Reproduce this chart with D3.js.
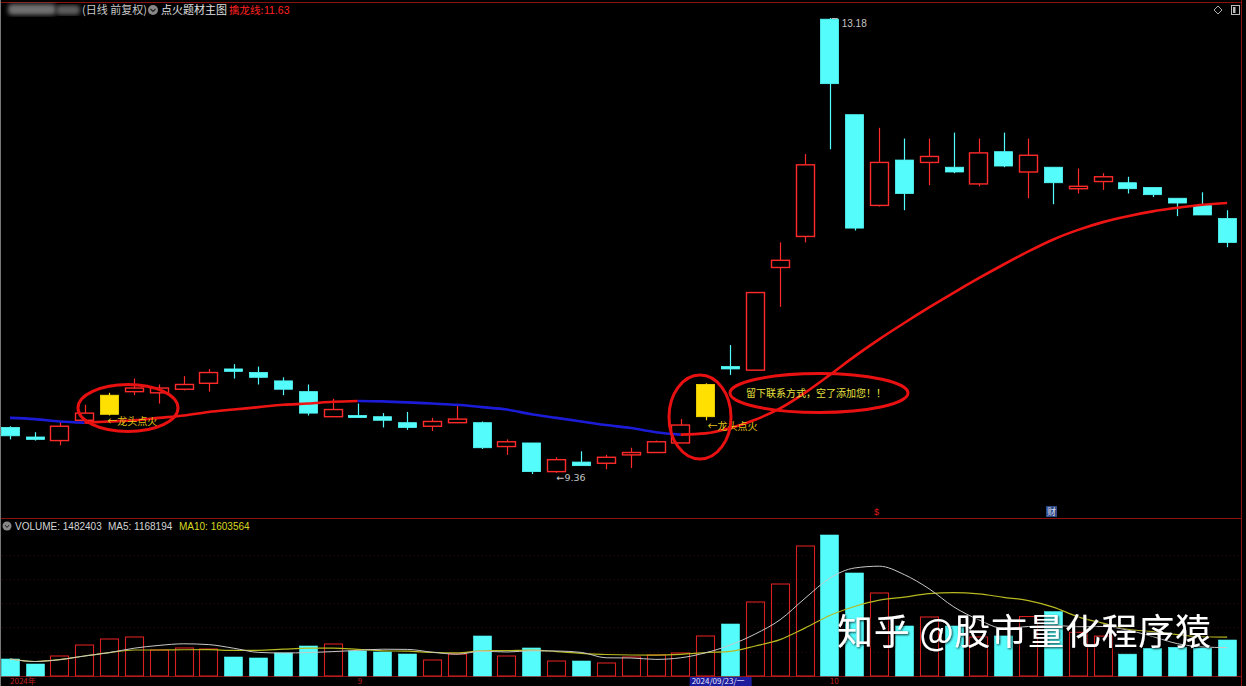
<!DOCTYPE html>
<html><head><meta charset="utf-8">
<script src="https://cdn.jsdelivr.net/npm/d3@7"></script>
<style>html,body{margin:0;padding:0;background:#000;overflow:hidden}</style>
</head><body><svg id="c" width="1246" height="686"></svg>
<script>
// ---- data ----
const openP  = [9.75,9.67,9.64,9.81,9.86,10.05,10.04,10.07,10.12,10.24,10.21,10.14,10.05,9.84,9.85,9.84,9.79,9.76,9.79,9.79,9.59,9.62,9.38,9.46,9.45,9.52,9.54,9.62,9.84,10.26,10.23,11.09,11.35,13.17,12.37,11.61,11.99,11.97,11.93,11.79,12.06,11.89,11.93,11.75,11.81,11.80,11.76,11.67,11.61,11.50];
const highP  = [9.76,9.71,9.80,9.94,10.04,10.16,10.11,10.18,10.24,10.28,10.26,10.17,10.11,9.99,9.95,9.87,9.88,9.83,9.94,9.80,9.65,9.62,9.50,9.55,9.52,9.58,9.64,9.82,10.12,10.44,10.88,11.30,12.04,13.18,12.37,12.26,12.17,12.17,12.22,12.17,12.22,12.17,11.93,11.92,11.88,11.85,11.76,11.67,11.72,11.57];
const lowP   = [9.65,9.64,9.60,9.80,9.85,10.02,9.95,10.06,10.05,10.16,10.11,10.02,9.85,9.84,9.83,9.75,9.73,9.72,9.79,9.57,9.52,9.36,9.37,9.43,9.40,9.41,9.54,9.62,9.81,10.19,10.23,10.76,11.30,12.08,11.40,11.60,11.57,11.78,11.88,11.77,11.93,11.67,11.62,11.71,11.74,11.71,11.68,11.52,11.53,11.26];
const closeP = [9.68,9.65,9.76,9.87,10.02,10.08,10.08,10.11,10.21,10.22,10.17,10.07,9.87,9.90,9.84,9.81,9.75,9.80,9.82,9.58,9.63,9.38,9.48,9.43,9.50,9.54,9.63,9.77,10.11,10.24,10.88,11.15,11.95,12.63,11.42,11.97,11.71,12.02,11.89,12.05,11.94,12.03,11.80,11.77,11.85,11.75,11.70,11.63,11.53,11.30];
const signalIdx = [4, 28];   // 龙头点火 candles
const qinlong = [9.83,9.82,9.80,9.79,9.80,9.81,9.83,9.85,9.88,9.90,9.92,9.94,9.95,9.965,9.972,9.968,9.96,9.95,9.94,9.92,9.90,9.86,9.83,9.80,9.77,9.745,9.71,9.69,9.70,9.745,9.815,9.91,10.04,10.19,10.345,10.49,10.625,10.755,10.88,11.0,11.115,11.225,11.325,11.405,11.47,11.52,11.56,11.59,11.615,11.63];
const volume = [700000,494000,824000,1277000,1524000,1607000,1071000,1154000,1112000,783000,742000,948000,1236000,1318000,1030000,989000,906000,659000,906000,1648000,824000,1154000,618000,618000,536000,783000,865000,948000,1648000,2142000,3049000,3790000,5356000,5809000,4244000,3420000,2060000,2431000,2060000,1607000,1650000,2450000,2650000,1800000,1644000,900000,1130000,1180000,1150000,1482403];
const volHeader = ["VOLUME: 1482403", "MA5: 1168194", "MA10: 1603564"];
const tickIndex = [0, 14, 33];
const tickText  = ["2024年", "9", "10"];
const cursorIndex = 27, cursorText = "2024/09/23/一";

// ---- setup ----
const N = openP.length;
const svg = d3.select("#c");
svg.append("rect").attr("width",1246).attr("height",686).attr("fill","#000");
const defs = svg.append("defs");
defs.append("filter").attr("id","blur").append("feGaussianBlur").attr("stdDeviation",2.2);
defs.append("filter").attr("id","shadow").append("feDropShadow").attr("dx",1).attr("dy",1).attr("stdDeviation",1).attr("flood-color","#000").attr("flood-opacity",0.8);

const RED="#ff2a2a", CYAN="#54fcfc", YEL="#ffe000", DRED="#8a1212";
const x = d3.scaleBand().domain(d3.range(N)).range([-2.42,1239.58]).paddingInner(0.25).paddingOuter(0.125);
const cx = i => x(i) + x.bandwidth()/2;
const yP = d3.scaleLinear().domain([9.36,13.18]).range([474,18]);
const yV = d3.scaleLinear().domain([0,d3.max(volume)]).range([676,535]);

// frame lines
const frame = svg.append("g");
frame.append("line").attr("x1",0).attr("x2",1242).attr("y1",2.5).attr("y2",2.5).attr("stroke",DRED);
frame.append("line").attr("x1",0).attr("x2",1242).attr("y1",518.5).attr("y2",518.5).attr("stroke",DRED);
frame.append("line").attr("x1",0).attr("x2",1242).attr("y1",676.5).attr("y2",676.5).attr("stroke",DRED);
frame.append("line").attr("x1",1241.5).attr("x2",1241.5).attr("y1",0).attr("y2",686).attr("stroke",DRED);
frame.append("line").attr("x1",0.5).attr("x2",0.5).attr("y1",0).attr("y2",686).attr("stroke","#777");

// volume grid (dotted)
const vg = svg.append("g");
[1e6,2e6,3e6,4e6,5e6].forEach(v=>{
  vg.append("line").attr("x1",2).attr("x2",1240).attr("y1",Math.round(yV(v))+0.5).attr("y2",Math.round(yV(v))+0.5)
    .attr("stroke","#300606").attr("stroke-dasharray","1,3");
});

// ---- candles ----
const isSig = i => signalIdx.includes(i);
const colorOf = i => isSig(i) ? YEL : (closeP[i] >= openP[i] ? RED : CYAN);
const cg = svg.append("g");
d3.range(N).forEach(i=>{
  const c = colorOf(i);
  const top = Math.max(openP[i],closeP[i]), bot = Math.min(openP[i],closeP[i]);
  const X = Math.round(cx(i)) + 0.5;
  cg.append("line").attr("x1",X).attr("x2",X).attr("y1",yP(highP[i])).attr("y2",yP(top)).attr("stroke",c).attr("stroke-width",1.2);
  cg.append("line").attr("x1",X).attr("x2",X).attr("y1",yP(bot)).attr("y2",yP(lowP[i])).attr("stroke",c).attr("stroke-width",1.2);
  const h = Math.max(2, yP(bot)-yP(top));
  const hollow = c===RED;
  cg.append("rect").attr("x",Math.round(x(i))+0.5).attr("y",yP(top)).attr("width",Math.round(x.bandwidth())-1).attr("height",h)
    .attr("fill",hollow?"#000":c).attr("stroke",c).attr("stroke-width",hollow?1.4:0.8);
});

// ---- 擒龙线 (colored by direction) ----
const line = d3.line().x(d=>cx(d)).y(d=>yP(qinlong[d])).curve(d3.curveMonotoneX);
let runs=[], cur=null;
for(let i=0;i<N-1;i++){
  const col = qinlong[i+1] >= qinlong[i] ? "#ee1414" : "#1c1cd8";
  if(!cur || cur.col!==col){ cur={col,idx:[i]}; runs.push(cur); }
  cur.idx.push(i+1);
}
runs.forEach(r=>{
  svg.append("path").attr("d",line(r.idx)).attr("fill","none").attr("stroke",r.col).attr("stroke-width",2.6);
});

// ---- annotations ----
const ann = svg.append("g").attr("font-family","'Noto Sans CJK SC','Noto Sans',sans-serif");
ann.append("text").attr("x",cx(signalIdx[0])-2).attr("y",425).attr("font-size",10).attr("fill","#e2c31a").text("←龙头点火");
ann.append("text").attr("x",cx(signalIdx[1])+2).attr("y",430).attr("font-size",10).attr("fill","#e2c31a").text("←龙头点火");
ann.append("text").attr("x",746).attr("y",397).attr("font-size",10).attr("fill","#e8e040").text("留下联系方式，空了添加您！！");
ann.append("ellipse").attr("cx",128).attr("cy",408).attr("rx",50).attr("ry",23.5).attr("fill","none").attr("stroke","#e81010").attr("stroke-width",3);
ann.append("ellipse").attr("cx",700).attr("cy",417).attr("rx",31).attr("ry",42).attr("fill","none").attr("stroke","#e81010").attr("stroke-width",3);
ann.append("ellipse").attr("cx",819).attr("cy",393).attr("rx",89).attr("ry",19.5).attr("fill","none").attr("stroke","#e81010").attr("stroke-width",3);

// high / low labels
const hiI = d3.maxIndex(highP), loI = d3.minIndex(lowP);
svg.append("line").attr("x1",cx(hiI)+2).attr("x2",cx(hiI)+8).attr("y1",yP(highP[hiI])+0.5).attr("y2",yP(highP[hiI])+0.5).attr("stroke","#bbb");
svg.append("text").attr("x",cx(hiI)+12).attr("y",yP(highP[hiI])+9).attr("font-family","'Liberation Sans',Arial,sans-serif").attr("font-size",10).attr("fill","#c4c4c4").text(highP[hiI].toFixed(2));
svg.append("text").attr("x",cx(loI+1)).attr("y",yP(lowP[loI])+7).attr("font-family","'DejaVu Sans',sans-serif").attr("font-size",9.5).attr("fill","#c4c4c4").text("←"+lowP[loI].toFixed(2));

// small markers above divider
svg.append("text").attr("x",874).attr("y",515).attr("font-family","'Liberation Sans',sans-serif").attr("font-size",9).attr("fill","#e01818").text("$");
svg.append("rect").attr("x",1046).attr("y",506).attr("width",11).attr("height",11).attr("fill","#2c4a86");
svg.append("text").attr("x",1047).attr("y",515).attr("font-family","'Noto Sans CJK SC',sans-serif").attr("font-size",9).attr("fill","#dde").text("财");

// ---- header ----
const hd = svg.append("g").attr("font-family","'Noto Sans CJK SC','Noto Sans',sans-serif").attr("font-size",11);
hd.append("rect").attr("x",8).attr("y",4).attr("width",48).attr("height",11).attr("rx",4).attr("fill","#707070").attr("filter","url(#blur)");
hd.append("rect").attr("x",56).attr("y",5).attr("width",24).attr("height",10).attr("rx",4).attr("fill","#5c5c5c").attr("filter","url(#blur)");
hd.append("text").attr("x",82).attr("y",14).attr("fill","#c8c8c8").text("(日线 前复权)");
hd.append("circle").attr("cx",153).attr("cy",10).attr("r",5).attr("fill","#888");
hd.append("path").attr("d","M150.5,9 L153,11.5 L155.5,9").attr("fill","none").attr("stroke","#222").attr("stroke-width",1.2);
hd.append("text").attr("x",161).attr("y",14).attr("fill","#e0e0e0").text("点火题材主图");
hd.append("text").attr("x",229).attr("y",14).attr("fill","#ff2020").attr("font-size",10.5).text("擒龙线:");
hd.append("text").attr("x",264).attr("y",14).attr("fill","#ff2020").attr("font-family","'Liberation Sans',Arial,sans-serif").attr("font-size",10.5).text(qinlong[N-1].toFixed(2));
// top-right icons
svg.append("path").attr("d","M1218,6 L1222,10 L1218,14 L1214,10 Z").attr("fill","none").attr("stroke","#aaa");
svg.append("rect").attr("x",1231.5).attr("y",5.5).attr("width",8).attr("height",9).attr("fill","none").attr("stroke","#bbb");
svg.append("rect").attr("x",1233).attr("y",7).attr("width",2.5).attr("height",6).attr("fill","#bbb");

// ---- volume ----
const vgBars = svg.append("g");
d3.range(N).forEach(i=>{
  const c = closeP[i] >= openP[i] ? RED : CYAN;
  const hollow = c===RED;
  const top = yV(volume[i]);
  vgBars.append("rect").attr("x",Math.round(x(i))+0.5).attr("y",top).attr("width",Math.round(x.bandwidth())-1).attr("height",676-top)
    .attr("fill",hollow?"none":c).attr("stroke",hollow?"#d82020":c).attr("stroke-width",hollow?1.1:0.6);
});
const ma = n => d3.range(N).map(i=>d3.mean(volume.slice(Math.max(0,i-n+1),i+1)));
const ma5 = ma(5), ma10 = ma(10);
const vline = arr => d3.line().x((d,i)=>cx(i)).y(d=>yV(d)).curve(d3.curveMonotoneX)(arr);
svg.append("path").attr("d",vline(ma10)).attr("fill","none").attr("stroke","#b8b820").attr("stroke-width",1.2);
svg.append("path").attr("d",vline(ma5)).attr("fill","none").attr("stroke","#c8c8c8").attr("stroke-width",1);

const vh = svg.append("g").attr("font-family","'Liberation Sans',Arial,sans-serif").attr("font-size",10);
vh.append("circle").attr("cx",7).attr("cy",526).attr("r",4.5).attr("fill","#888");
vh.append("path").attr("d","M5,525 L7,527.5 L9,525").attr("fill","none").attr("stroke","#222");
vh.append("text").attr("x",15).attr("y",530).attr("fill","#d4d4d4").text(volHeader[0]);
vh.append("text").attr("x",108).attr("y",530).attr("fill","#d4d4d4").text(volHeader[1]);
vh.append("text").attr("x",179).attr("y",530).attr("fill","#d8d820").text(volHeader[2]);

// ---- date axis ----
const ax = svg.append("g").attr("font-family","'Liberation Sans',Arial,sans-serif").attr("font-size",8);
tickIndex.forEach((ti,k)=>{
  ax.append("text").attr("x",cx(ti)).attr("y",684).attr("fill","#c02020").attr("font-family","'Noto Sans CJK SC',sans-serif").text(tickText[k]);
});
ax.append("rect").attr("x",cx(cursorIndex)+9).attr("y",677).attr("width",62).attr("height",9).attr("fill","#1c1c9c");
ax.append("text").attr("x",cx(cursorIndex)+11).attr("y",684).attr("fill","#e8e8ff").attr("font-family","'Noto Sans CJK SC',sans-serif").text(cursorText);

// ---- watermark ----
svg.append("text").attr("x",837).attr("y",645).attr("font-family","'Noto Sans CJK SC',sans-serif").attr("font-size",36)
  .attr("letter-spacing",0.8).attr("fill","#ffffff").attr("filter","url(#shadow)").text("知乎 @股市量化程序猿");
</script></body></html>
